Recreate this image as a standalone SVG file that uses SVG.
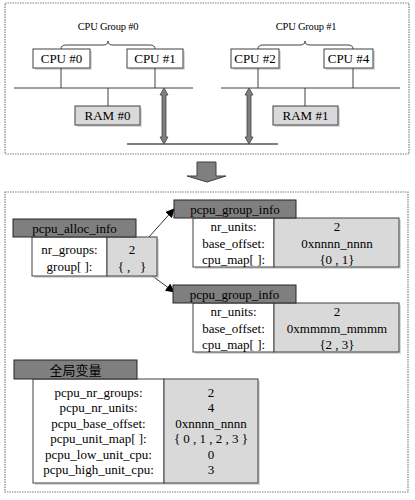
<svg xmlns="http://www.w3.org/2000/svg" width="415" height="500" viewBox="0 0 415 500">
<defs>
<style>
.t{font-family:"Liberation Serif","Times New Roman",serif;font-size:13px;fill:#000;text-anchor:middle}
.gl{font-family:"Liberation Serif","Times New Roman",serif;font-size:10.5px;fill:#000;text-anchor:middle;letter-spacing:-0.2px}
.cjk{font-family:"Noto Sans CJK SC","Noto Sans",sans-serif;font-size:13px;fill:#000;text-anchor:middle}
.dash{fill:none;stroke:#7f7f7f;stroke-width:1.2;stroke-dasharray:1.5 1}
.box{fill:#fff;stroke:#404040;stroke-width:1}
.gbox{fill:#d9d9d9;stroke:#404040;stroke-width:1}
.hdr{fill:#7f7f7f;stroke:#262626;stroke-width:1}
.sh{fill:#bfbfbf;opacity:0.6}
.ln{stroke:#404040;stroke-width:1;fill:none}
.dbl{fill:#7f7f7f;stroke:#404040;stroke-width:0.8}
.conn{stroke:#000;stroke-width:0.8;fill:none;marker-end:url(#ah)}
</style>
<marker id="ah" viewBox="0 0 10 10" refX="9" refY="5" markerWidth="9" markerHeight="9" markerUnits="userSpaceOnUse" orient="auto">
<path d="M0,0 L10,5 L0,10 Z" fill="#000"/>
</marker>
</defs>

<!-- Top hardware area -->
<rect class="dash" x="5" y="3" width="404" height="151"/>

<g id="group0">
<text class="gl" x="108" y="30">CPU Group #0</text>
<path class="ln" d="M61,49 Q61,45 66,45 L103,45 Q108,45 108,41 Q108,45 113,45 L150,45 Q155,45 155,49"/>
</g>
<g id="group1">
<text class="gl" x="306" y="30">CPU Group #1</text>
<path class="ln" d="M258,49 Q258,45 263,45 L300,45 Q305,45 305,41 Q305,45 310,45 L348,45 Q353,45 353,49"/>
</g>

<g id="cpu0">
<rect class="sh" x="35" y="51" width="57" height="19"/>
<rect class="box" x="33" y="49" width="57" height="19"/>
<text class="t" x="61.5" y="63">CPU #0</text>
</g>
<g id="cpu1">
<rect class="sh" x="129" y="51" width="56" height="19"/>
<rect class="box" x="127" y="49" width="56" height="19"/>
<text class="t" x="155" y="63">CPU #1</text>
</g>
<g id="cpu2">
<rect class="sh" x="233" y="51" width="48" height="19"/>
<rect class="box" x="231" y="49" width="48" height="19"/>
<text class="t" x="255" y="63">CPU #2</text>
</g>
<g id="cpu4">
<rect class="sh" x="326" y="51" width="49" height="19"/>
<rect class="box" x="324" y="49" width="49" height="19"/>
<text class="t" x="348.5" y="63">CPU #4</text>
</g>
<g id="ram0">
<rect class="sh" x="77" y="108" width="65" height="19"/>
<rect class="gbox" x="75" y="106" width="65" height="19"/>
<text class="t" x="107.5" y="120">RAM #0</text>
</g>
<g id="ram1">
<rect class="sh" x="275" y="108" width="65" height="19"/>
<rect class="gbox" x="273" y="106" width="65" height="19"/>
<text class="t" x="305.5" y="120">RAM #1</text>
</g>

<g id="connectors">
<!-- left bus -->
<line class="ln" x1="14" y1="88" x2="193" y2="88"/>
<line class="ln" x1="61" y1="68" x2="61" y2="88"/>
<line class="ln" x1="155" y1="68" x2="155" y2="88"/>
<line class="ln" x1="108" y1="88" x2="108" y2="106"/>
<!-- right bus -->
<line class="ln" x1="221" y1="88" x2="400" y2="88"/>
<line class="ln" x1="258" y1="68" x2="258" y2="88"/>
<line class="ln" x1="353" y1="68" x2="353" y2="88"/>
<line class="ln" x1="305" y1="88" x2="305" y2="106"/>
<!-- interconnect -->
<line x1="127" y1="144" x2="278" y2="144" stroke="#7f7f7f" stroke-width="2"/>
<path class="dbl" d="M164,88 L168,95 L166,95 L166,137 L168,137 L164,144 L160,137 L162,137 L162,95 L160,95 Z"/>
<path class="dbl" d="M249,88 L253,95 L251,95 L251,137 L253,137 L249,144 L245,137 L247,137 L247,95 L245,95 Z"/>
<!-- pointers -->
<line class="conn" x1="123" y1="266" x2="174" y2="209"/>
<line class="conn" x1="139" y1="266" x2="174" y2="292"/>
</g>

<!-- block arrow -->
<g id="downarrow">
<path d="M197,162 L216,162 L216,176 L226,176 L207,182 L187,176 L197,176 Z" fill="#7f7f7f" stroke="#404040" stroke-width="1"/>
</g>

<!-- Bottom data area -->
<rect class="dash" x="5" y="192" width="403" height="300"/>

<g id="alloc_info">
<rect class="sh" x="34" y="239" width="125" height="39"/>
<rect class="box" x="32" y="237" width="75" height="39"/>
<rect class="gbox" x="107" y="237" width="50" height="39"/>
<rect class="hdr" x="13" y="219" width="123" height="18"/>
<text class="t" x="74.5" y="232.5">pcpu_alloc_info</text>
<text class="t" x="69.5" y="253.5">nr_groups:</text>
<text class="t" x="69.5" y="270.5">group[ ]:</text>
<text class="t" x="132" y="253.5">2</text>
<text class="t" x="132" y="270.5" xml:space="preserve">{ ,   }</text>
</g>

<g id="group_info0">
<rect class="sh" x="195" y="220" width="206" height="49"/>
<rect class="box" x="193" y="218" width="81" height="49"/>
<rect class="gbox" x="274" y="218" width="125" height="49"/>
<rect class="hdr" x="174" y="200" width="122" height="18"/>
<text class="t" x="235" y="213.5">pcpu_group_info</text>
<text class="t" x="233.5" y="231">nr_units:</text>
<text class="t" x="233.5" y="247.5">base_offset:</text>
<text class="t" x="233.5" y="264">cpu_map[ ]:</text>
<text class="t" x="337" y="231">2</text>
<text class="t" x="337" y="247.5">0xnnnn_nnnn</text>
<text class="t" x="337" y="264">{0 , 1}</text>
</g>

<g id="group_info1">
<rect class="sh" x="195" y="305" width="206" height="49"/>
<rect class="box" x="193" y="303" width="81" height="49"/>
<rect class="gbox" x="274" y="303" width="125" height="49"/>
<rect class="hdr" x="173" y="285" width="123" height="18"/>
<text class="t" x="234.5" y="298.5">pcpu_group_info</text>
<text class="t" x="233.5" y="316">nr_units:</text>
<text class="t" x="233.5" y="332.5">base_offset:</text>
<text class="t" x="233.5" y="349">cpu_map[ ]:</text>
<text class="t" x="337" y="316">2</text>
<text class="t" x="337" y="332.5">0xmmmm_mmmm</text>
<text class="t" x="337" y="349">{2 , 3}</text>
</g>

<g id="globals">
<rect class="sh" x="35" y="381" width="225" height="104"/>
<rect class="box" x="33" y="379" width="131" height="104"/>
<rect class="gbox" x="164" y="379" width="94" height="104"/>
<rect class="hdr" x="14" y="360" width="123" height="19"/>
<text class="cjk" x="75.5" y="374.5">全局变量</text>
<text class="t" x="98.5" y="396.5">pcpu_nr_groups:</text>
<text class="t" x="98.5" y="412">pcpu_nr_units:</text>
<text class="t" x="98.5" y="427.5">pcpu_base_offset:</text>
<text class="t" x="98.5" y="443">pcpu_unit_map[ ]:</text>
<text class="t" x="98.5" y="458.5">pcpu_low_unit_cpu:</text>
<text class="t" x="98.5" y="474">pcpu_high_unit_cpu:</text>
<text class="t" x="211" y="396.5">2</text>
<text class="t" x="211" y="412">4</text>
<text class="t" x="211" y="427.5">0xnnnn_nnnn</text>
<text class="t" x="211" y="443">{ 0 , 1 , 2 , 3 }</text>
<text class="t" x="211" y="458.5">0</text>
<text class="t" x="211" y="474">3</text>
</g>
</svg>
